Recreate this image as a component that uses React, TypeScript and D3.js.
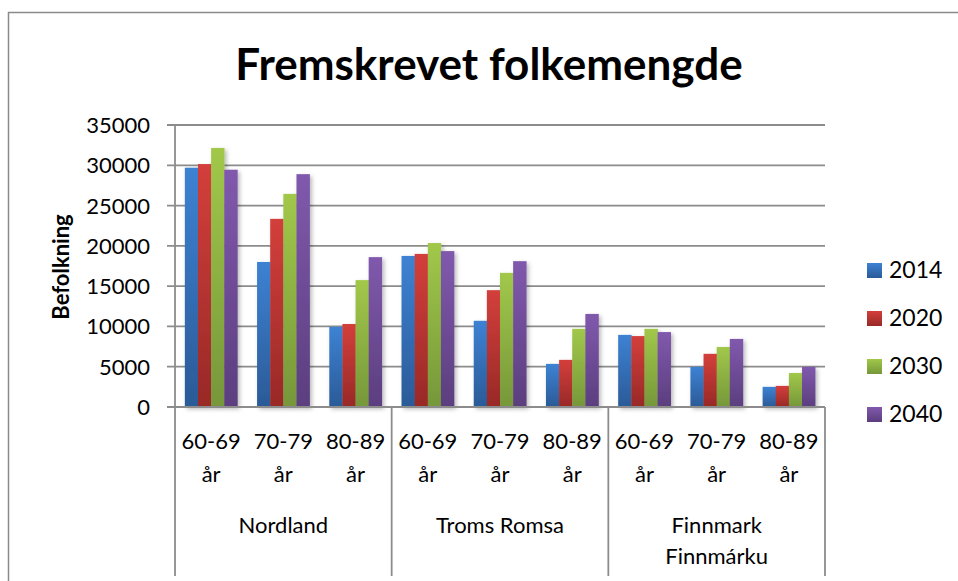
import React from "react";
import * as d3 from "d3";

const regions = ["Nordland", "Troms Romsa", "Finnmark Finnmárku"];
const regionLines = [["Nordland"], ["Troms Romsa"], ["Finnmark", "Finnmárku"]];
const ageGroups = ["60-69", "70-79", "80-89"];
const years = ["2014", "2020", "2030", "2040"];
const yTicks = [0, 5000, 10000, 15000, 20000, 25000, 30000, 35000];

// values per year, order: Nordland 60-69,70-79,80-89, Troms ..., Finnmark ...
const v2014 = [29700, 18000, 9950, 18750, 10700, 5350, 8950, 4980, 2500];
const v2020 = [30150, 23350, 10300, 19000, 14500, 5850, 8800, 6600, 2620];
const v2030 = [32150, 26450, 15750, 20350, 16650, 9700, 9700, 7450, 4220];
const v2040 = [29450, 28900, 18600, 19350, 18100, 11550, 9300, 8450, 4980];
const seriesValues = [v2014, v2020, v2030, v2040];

const colorsTop = ["#3d82d3", "#d33f3b", "#a1c84a", "#8059ad"];
const colorsBottom = ["#2b5a97", "#982927", "#76973a", "#5b3e7e"];

const FONT = "Lato, 'Open Sans', sans-serif";

export default function App() {
  const W = 958;
  const H = 581;
  const left = 175;
  const right = 825;
  const top = 125;
  const bottom = 407;

  const cats = regions.flatMap((r) => ageGroups.map((a) => r + "|" + a));
  const x = d3
    .scaleBand<string>()
    .domain(cats)
    .range([left, right])
    .paddingInner(1.5 / 5.5)
    .paddingOuter(0.75 / 5.5);
  const xInner = d3.scaleBand<string>().domain(years).range([0, x.bandwidth()]);
  const y = d3.scaleLinear().domain([0, 35000]).range([bottom, top]);
  const step = (right - left) / cats.length;

  return (
    <svg
      width={W}
      height={H}
      style={{ position: "absolute", left: 0, top: 0, background: "#fff" }}
    >
      <defs>
        {years.map((yr, i) => (
          <linearGradient key={yr} id={"g" + i} x1="0" y1="0" x2="0" y2="1">
            <stop offset="0%" stopColor={colorsTop[i]} />
            <stop offset="100%" stopColor={colorsBottom[i]} />
          </linearGradient>
        ))}
        <filter id="sh" x="-30%" y="-10%" width="160%" height="130%">
          <feDropShadow dx="2" dy="2" stdDeviation="2" floodColor="#000" floodOpacity="0.28" />
        </filter>
      </defs>

      {/* chart border */}
      <rect x={8.5} y={12.5} width={1000} height={700} fill="none" stroke="#8a8a8a" strokeWidth={1.5} />

      {/* title */}
      <text
        x={489}
        y={80}
        textAnchor="middle"
        fontFamily={FONT}
        fontWeight="bold"
        fontSize={44}
        fill="#000"
      >
        Fremskrevet folkemengde
      </text>

      {/* gridlines */}
      {yTicks.map((t) => (
        <g key={t}>
          <line x1={167} x2={right} y1={y(t)} y2={y(t)} stroke="#8c8c8c" strokeWidth={1.8} />
          <text
            x={150}
            y={y(t) + 8}
            textAnchor="end"
            fontFamily={FONT}
            fontSize={22}
            fill="#000"
          >
            {t}
          </text>
        </g>
      ))}

      {/* y axis line */}
      <line x1={left} x2={left} y1={top} y2={bottom} stroke="#8c8c8c" strokeWidth={1.8} />

      {/* Y axis title */}
      <text
        transform={`translate(69,267) rotate(-90)`}
        textAnchor="middle"
        fontFamily={FONT}
        fontWeight="bold"
        fontSize={22}
        fill="#000"
      >
        Befolkning
      </text>

      {/* bars */}
      {cats.map((c, ci) => (
        <g key={c} filter="url(#sh)">
          {years.map((yr, si) => {
            const v = seriesValues[si][ci];
            const bx = (x(c) as number) + (xInner(yr) as number);
            return (
              <rect
                key={yr}
                x={bx}
                y={y(v)}
                width={xInner.bandwidth() + 0.3}
                height={bottom - y(v)}
                fill={`url(#g${si})`}
              />
            );
          })}
        </g>
      ))}

      {/* x axis line */}
      <line x1={left} x2={right} y1={bottom} y2={bottom} stroke="#8c8c8c" strokeWidth={1.8} />

      {/* group separators */}
      {[0, 3, 6, 9].map((k) => (
        <line
          key={k}
          x1={left + k * step}
          x2={left + k * step}
          y1={bottom}
          y2={576}
          stroke="#8c8c8c"
          strokeWidth={1.8}
        />
      ))}

      {/* category labels */}
      {cats.map((c, ci) => {
        const cx = (x(c) as number) + x.bandwidth() / 2;
        return (
          <g key={c} fontFamily={FONT} fontSize={22} fill="#000" textAnchor="middle">
            <text x={cx} y={449}>{ageGroups[ci % 3]}</text>
            <text x={cx} y={482}>år</text>
          </g>
        );
      })}

      {regions.map((r, ri) => {
        const cx = left + (ri * 3 + 1.5) * step;
        return (
          <g key={r} fontFamily={FONT} fontSize={22} fill="#000" textAnchor="middle">
            {regionLines[ri].map((ln, li) => (
              <text key={ln} x={cx} y={533 + li * 31}>
                {ln}
              </text>
            ))}
          </g>
        );
      })}

      {/* legend */}
      {years.map((yr, i) => (
        <g key={yr}>
          <rect x={867} y={263 + i * 48} width={15} height={15} fill={`url(#g${i})`} />
          <text x={889} y={278 + i * 48} fontFamily={FONT} fontSize={23} fill="#000">
            {yr}
          </text>
        </g>
      ))}
    </svg>
  );
}
